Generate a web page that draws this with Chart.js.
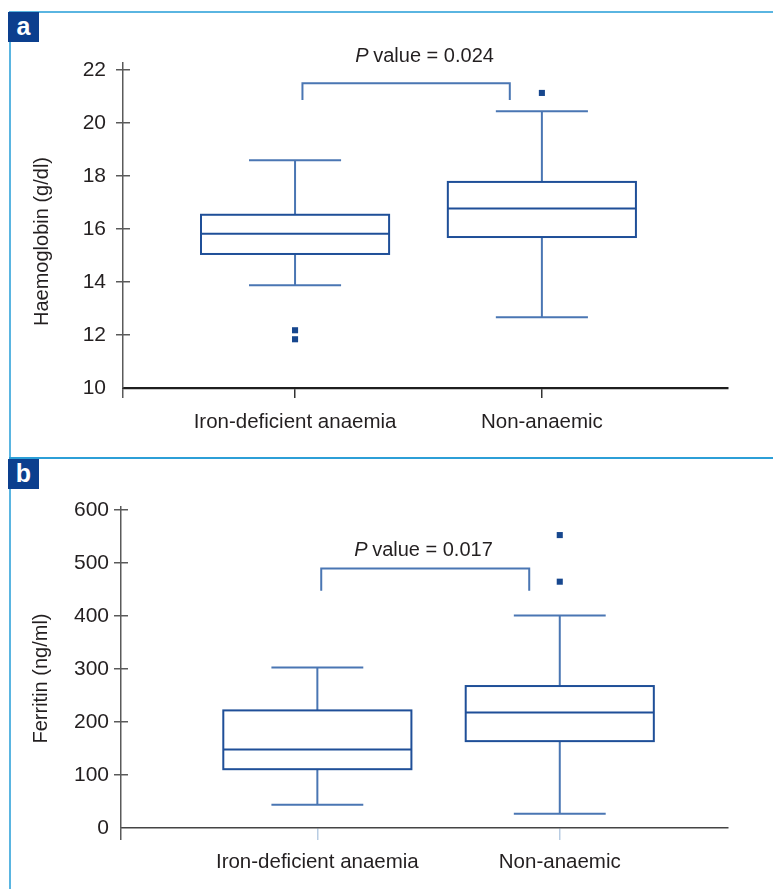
<!DOCTYPE html>
<html>
<head>
<meta charset="utf-8">
<script src="https://cdn.jsdelivr.net/npm/chart.js@4.4.0/dist/chart.umd.min.js"></script>
<style>
  body { margin: 0; background: #fff; }
  #page { position: relative; width: 773px; height: 889px; overflow: hidden; }
  .frame { position: absolute; left: 9px; top: 11px; width: 800px; height: 900px;
           border-left: 2px solid #5ab5e1; border-top: 2px solid #5ab5e1; }
  .divider { position: absolute; left: 9px; top: 457px; width: 770px; height: 2px; background: #2c9fd7; }
  .tag { position: absolute; left: 8px; width: 31px; height: 30px; background: #0c3f8e; color: #fff;
         font: bold 25px "Liberation Sans", Arial, sans-serif; text-align: center; line-height: 28px; }
  canvas { position: absolute; left: 0; }
</style>
</head>
<body>
<div id="page">
  <div class="frame"></div>
  <div class="divider"></div>
  <canvas id="chartA" width="773" height="458" style="top:0"></canvas>
  <canvas id="chartB" width="773" height="431" style="top:458px"></canvas>
  <div class="tag" style="top:12px">a</div>
  <div class="tag" style="top:459px">b</div>
</div>
<script>
// categories and values
const categories = ['Iron-deficient anaemia', 'Non-anaemic'];

const hbTicks = [10, 12, 14, 16, 18, 20, 22];
const hbLow = [13.88, 12.67];
const hbQ1 = [15.06, 15.70];
const hbMedian = [15.82, 16.78];
const hbQ3 = [16.54, 17.78];
const hbHigh = [18.60, 20.45];
const hbOutliers = [[12.18, 11.84], [21.14]];
const hbP = '0.024';

const ferTicks = [0, 100, 200, 300, 400, 500, 600];
const ferLow = [44, 27];
const ferQ1 = [111, 164];
const ferMedian = [148, 218];
const ferQ3 = [222, 268];
const ferHigh = [303, 401];
const ferOutliers = [[], [553, 465]];
const ferP = '0.017';

const FONT = '"Liberation Sans", Arial, sans-serif';
const TEXT = '#231f20';
const AXIS = '#5a5a5a';
const BOX = '#1f4f98';
const WHISKER = '#4a76b3';
const DOT = '#17478e';

Chart.defaults.font.family = FONT;
Chart.defaults.color = TEXT;

function outlierPoints(list) {
  const pts = [];
  list.forEach((vals, i) => vals.forEach(v => pts.push({ x: i + 1, y: v })));
  return pts;
}

function line(ctx, x1, y1, x2, y2) {
  ctx.beginPath();
  ctx.moveTo(x1, y1);
  ctx.lineTo(x2, y2);
  ctx.stroke();
}

// draws the boxes, whiskers, comparison bracket, p value and y title via the chart scales
function boxPlugin(stats, look) {
  return {
    id: 'boxes',
    beforeDatasetsDraw(chart) {
      const ctx = chart.ctx;
      const x = chart.scales.x, y = chart.scales.y;
      const area = chart.chartArea;
      ctx.save();

      // inner half of the crossing y ticks
      ctx.strokeStyle = AXIS;
      ctx.lineWidth = 1.5;
      y.ticks.forEach((t, i) => {
        if (i === 0) return;
        const py = Math.round(y.getPixelForValue(t.value) - 0.75) + 0.75;
        line(ctx, area.left, py, area.left + 7, py);
      });

      stats.low.forEach((_, i) => {
        const cx = x.getPixelForValue(i + 1);
        const half = x.getPixelForValue(i + 1 + look.boxW / 2) - cx;
        const cap = x.getPixelForValue(i + 1 + look.capW / 2) - cx;
        const yLow = y.getPixelForValue(stats.low[i]);
        const yQ1 = y.getPixelForValue(stats.q1[i]);
        const yMed = y.getPixelForValue(stats.median[i]);
        const yQ3 = y.getPixelForValue(stats.q3[i]);
        const yHigh = y.getPixelForValue(stats.high[i]);

        ctx.strokeStyle = WHISKER;
        ctx.lineWidth = 2;
        line(ctx, cx, yQ3, cx, yHigh);
        line(ctx, cx - cap, yHigh, cx + cap, yHigh);
        line(ctx, cx, yQ1, cx, yLow);
        line(ctx, cx - cap, yLow, cx + cap, yLow);

        ctx.strokeStyle = BOX;
        ctx.lineWidth = 2;
        ctx.strokeRect(cx - half, yQ3, 2 * half, yQ1 - yQ3);
        line(ctx, cx - half, yMed, cx + half, yMed);
      });

      // bracket
      const b = look.bracket;
      const bx1 = x.getPixelForValue(b[0]), bx2 = x.getPixelForValue(b[1]);
      const bTop = y.getPixelForValue(b[2]), bFoot = y.getPixelForValue(b[3]);
      ctx.strokeStyle = WHISKER;
      ctx.lineWidth = 2;
      ctx.beginPath();
      ctx.moveTo(bx1, bFoot);
      ctx.lineTo(bx1, bTop);
      ctx.lineTo(bx2, bTop);
      ctx.lineTo(bx2, bFoot);
      ctx.stroke();

      // P value label
      const px = x.getPixelForValue(look.pAt[0]);
      const py = y.getPixelForValue(look.pAt[1]);
      const rest = ' value = ' + stats.p;
      ctx.fillStyle = TEXT;
      ctx.textBaseline = 'alphabetic';
      ctx.textAlign = 'left';
      ctx.font = 'italic 20px ' + FONT;
      const wP = ctx.measureText('P').width;
      ctx.font = '20px ' + FONT;
      const wR = ctx.measureText(rest).width;
      const start = px - (wP + wR) / 2;
      ctx.font = 'italic 20px ' + FONT;
      ctx.fillText('P', start, py);
      ctx.font = '20px ' + FONT;
      ctx.fillText(rest, start + wP - 1, py);

      // y axis title, sitting a little below the middle of the axis as in the figure
      ctx.translate(look.titleX, (area.top + area.bottom) / 2 + look.titleShift);
      ctx.rotate(-Math.PI / 2);
      ctx.textAlign = 'center';
      ctx.textBaseline = 'middle';
      ctx.font = '20px ' + FONT;
      ctx.fillText(stats.title, 0, 0);
      ctx.restore();
    }
  };
}

function makePanel(id, stats, look) {
  return new Chart(document.getElementById(id), {
    type: 'scatter',
    data: {
      datasets: [{
        data: outlierPoints(stats.outliers),
        pointStyle: 'rect',
        pointRadius: 4.3,
        backgroundColor: DOT,
        borderWidth: 0
      }]
    },
    options: {
      responsive: false,
      animation: false,
      layout: { padding: { top: look.top, right: look.right, left: 0, bottom: 0 } },
      plugins: { legend: { display: false }, tooltip: { enabled: false } },
      scales: {
        x: {
          type: 'linear',
          min: look.xMin,
          max: look.xMax,
          afterBuildTicks: s => {
            s.ticks = [{ value: s.min }].concat(categories.map((c, i) => ({ value: i + 1 })));
          },
          afterFit: s => { s.height = look.xHeight; },
          ticks: {
            autoSkip: false,
            maxRotation: 0,
            padding: look.xPad,
            color: TEXT,
            font: { size: 20.5 },
            callback: v => categories[v - 1] || ''
          },
          grid: {
            drawOnChartArea: false,
            tickLength: look.xTick,
            lineWidth: 1.5,
            color: c => (c.index === 0 ? AXIS : look.catTick)
          },
          border: { color: look.xAxisColor, width: look.xAxisWidth }
        },
        y: {
          min: look.yMin,
          max: look.yMax,
          afterBuildTicks: s => { s.ticks = stats.ticks.map(v => ({ value: v })); },
          afterFit: s => { s.width = look.yWidth; },
          ticks: { padding: look.yPad, color: TEXT, font: { size: 21 } },
          grid: {
            drawOnChartArea: false,
            tickLength: 7,
            lineWidth: 1.5,
            color: c => (c.index === 0 ? 'rgba(0,0,0,0)' : AXIS)
          },
          border: { color: AXIS, width: 1.5 }
        }
      }
    },
    plugins: [boxPlugin(stats, look)]
  });
}

makePanel('chartA', {
  title: 'Haemoglobin (g/dl)', ticks: hbTicks, p: hbP,
  low: hbLow, q1: hbQ1, median: hbMedian, q3: hbQ3, high: hbHigh, outliers: hbOutliers
}, {
  top: 63, right: 45, xHeight: 70, yWidth: 123,
  xMin: 0.303, xMax: 2.754, yMin: 10, yMax: 22.27,
  xPad: 12, xTick: 10, yPad: 10, titleX: 42, titleShift: 16,
  catTick: '#333', xAxisColor: '#1e1e1e', xAxisWidth: 2.2,
  boxW: 0.762, capW: 0.373,
  bracket: [1.03, 1.87, 21.51, 20.87],
  pAt: [1.527, 22.3]
});

makePanel('chartB', {
  title: 'Ferritin (ng/ml)', ticks: ferTicks, p: ferP,
  low: ferLow, q1: ferQ1, median: ferMedian, q3: ferQ3, high: ferHigh, outliers: ferOutliers
}, {
  top: 49, right: 45, xHeight: 61, yWidth: 121,
  xMin: 0.19, xMax: 2.694, yMin: 0, yMax: 606,
  xPad: 10, xTick: 12, yPad: 5, titleX: 41, titleShift: 11,
  catTick: '#b9cde3', xAxisColor: '#444', xAxisWidth: 1.6,
  boxW: 0.776, capW: 0.379,
  bracket: [1.016, 1.874, 490, 448],
  pAt: [1.44, 513]
});
</script>
</body>
</html>
